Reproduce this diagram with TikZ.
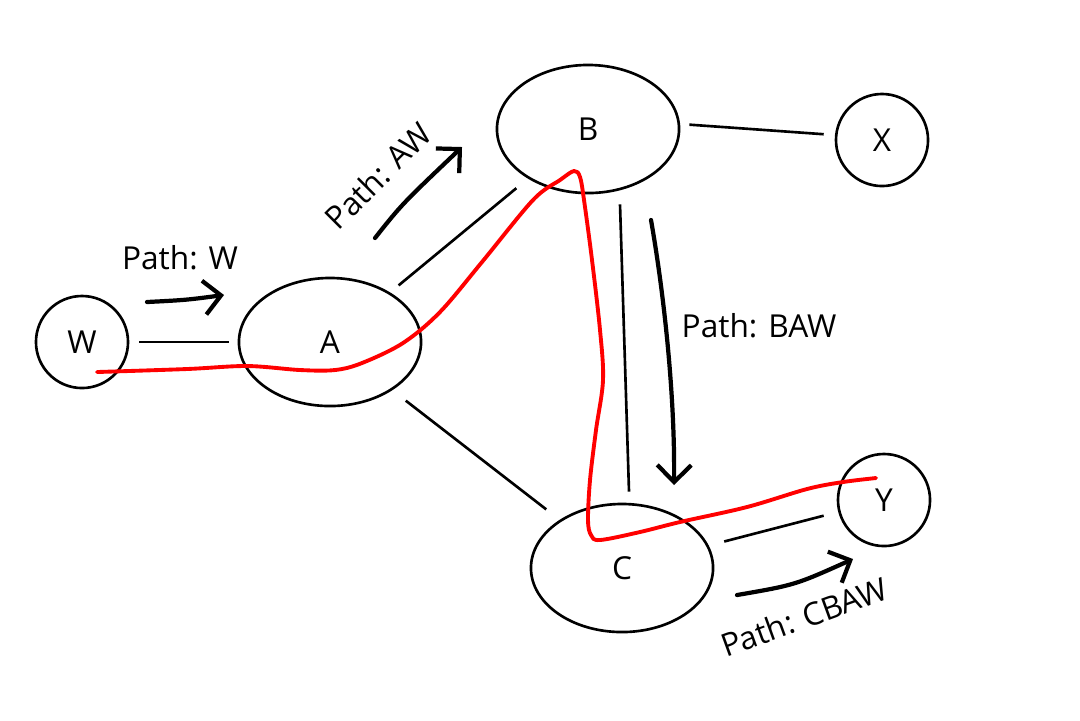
\documentclass[tikz,border=0pt]{standalone}
\usepackage{fontspec}
\setmainfont{Open Sans}
\usetikzlibrary{shapes.geometric,arrows.meta}
\begin{document}
\begin{tikzpicture}[x=0.01cm,y=-0.01cm,
  every node/.style={font=\fontsize{9}{11}\selectfont},
  smallnode/.style={circle,draw,line width=0.75pt,minimum size=0.92cm,inner sep=0pt},
  bignode/.style={ellipse,draw,line width=0.75pt,minimum width=1.82cm,minimum height=1.28cm,inner sep=0pt},
  link/.style={line width=0.75pt},
  patharrow/.style={line width=1.2pt,line cap=round,-{Straight Barb[length=1.7mm,width=3.4mm,line width=1.2pt]}},
  redpath/.style={red,line width=1.1pt,line cap=round,line join=round}]
\useasboundingbox (0,0) rectangle (1080,720);

\node[smallnode] (W) at (82,342) {W};
\node[bignode] (A) at (330,342) {A};
\node[bignode] (B) at (588,129) {B};
\node[smallnode] (X) at (882,140) {X};
\node[bignode] (C) at (622,568) {C};
\node[smallnode] (Y) at (884,500) {Y};

\draw[link,shorten <=1mm,shorten >=0.9mm] (W) -- (A);
\draw[link,shorten <=1.1mm,shorten >=1.5mm] (A) -- (B);
\draw[link,shorten <=0.9mm,shorten >=1.1mm] ([yshift=0.05cm]B.east) -- ([yshift=0.05cm]X.west);
\draw[link,shorten <=1.7mm,shorten >=1.7mm] (A) -- (C);
\draw[link] ([shift={(32,10)}]B.south) -- ([shift={(7,-11)}]C.north);
\draw[link,shorten <=1.6mm,shorten >=1.5mm] (C) -- (Y);

\coordinate (w1) at (147,302); \coordinate (w2) at (224,295);
\coordinate (a1) at (375,238); \coordinate (a2) at (462,147);
\coordinate (b1) at (651,220); \coordinate (b2) at (674,485);
\coordinate (c1) at (737,595); \coordinate (c2) at (853,559);
\draw[patharrow] (w1) .. controls (186,300) .. (w2);
\draw[patharrow] (a1) .. controls (402,204) .. (a2);
\draw[patharrow] (b1) .. controls (665,300) and (675,400) .. (b2);
\draw[patharrow] (c1) .. controls (795,585) .. (c2);

\node (lw) at (180,258) {Path: W};
\node[rotate=45] (law) at (378,176) {Path: AW};
\node (lb) at (759,326) {Path: BAW};
\node[rotate=20] (lc) at (804,617) {Path: CBAW};

\draw[redpath] plot[smooth,tension=0.55] coordinates {
 (97,372) (187,369) (247,366) (300,370) (335,370) (362,363) (403,343)
 (440,312) (482,262) (533,200) (560,180) (574,171) (580,177) (584,200)
 (592,260) (600,330) (603,380) (596,430) (590,480) (588,520) (591,535)
 (600,540) (640,532) (680,522) (747,507) (807,489) (843,482) (876,478)};
\end{tikzpicture}
\end{document}
